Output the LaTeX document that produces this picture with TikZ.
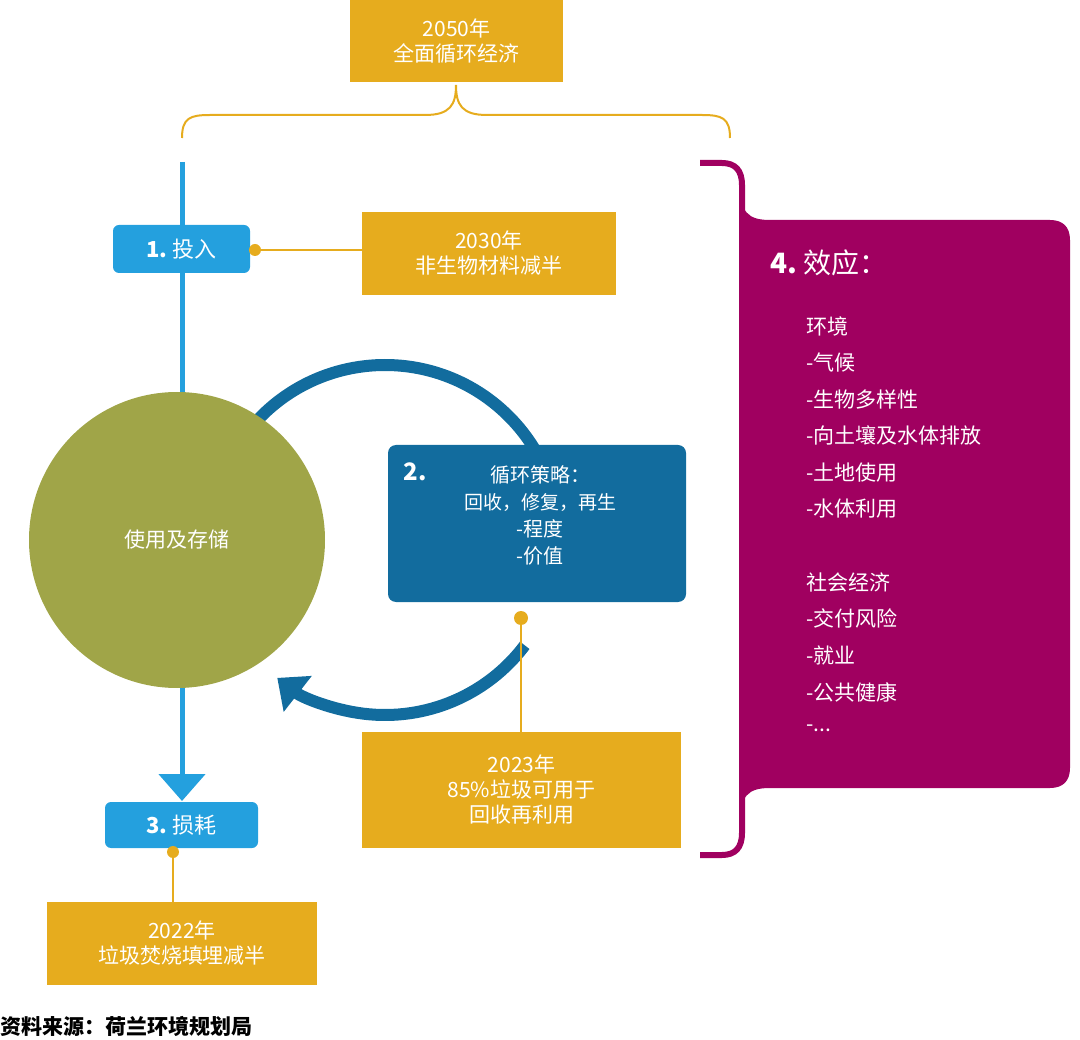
\documentclass[tikz,border=0pt]{standalone}
\usepackage{fontspec}
\setmainfont{Noto Sans CJK SC}
\usepackage{xcolor}
\usetikzlibrary{arrows.meta}
\definecolor{goldbox}{RGB}{230,172,30}
\definecolor{lightblue}{RGB}{36,160,222}
\definecolor{darkblue}{RGB}{18,108,158}
\definecolor{olive}{RGB}{160,165,72}
\definecolor{magenta}{RGB}{160,0,96}
\tikzset{
  goal/.style={fill=goldbox,text=white,align=center,inner sep=0pt,font=\fontsize{21}{25}\selectfont},
  stage/.style={fill=lightblue,text=white,rounded corners=6pt,inner sep=0pt,font=\fontsize{22}{26}\selectfont},
  effect/.style={text=white,anchor=west,inner sep=0pt,font=\fontsize{21}{25}\selectfont},
  pin/.style={goldbox,line width=2pt},
}
\begin{document}
\begin{tikzpicture}[x=1pt,y=1pt,yscale=-1,xscale=1]
    \useasboundingbox (0,0) rectangle (1080,1040);

    %Shape: Brace
    \draw [goldbox,line width=2pt] (182,138) .. controls (182,118) and (190,115) .. (210,115) -- (425,115) .. controls (450,115) and (456,105) .. (456,85) .. controls (456,105) and (462,115) .. (487,115) -- (702,115) .. controls (722,115) and (730,118) .. (730,138);
    \node [goal,minimum width=213,minimum height=82] (g50) at (456.5,41) {2050年\\全面循环经济};

    %Shape: Loop arc (bottom)
    \draw [darkblue,line width=12pt] (385,540) ++(-138:175) arc (-138:-20:175);
    %Shape: Loop arc (top) with arrow
    \draw [darkblue,line width=12pt,-{Triangle[length=26pt,width=44pt]}] (385,540) ++(37:175) arc (37:128:175);

    %Shape: Input line
    \draw [lightblue,line width=5pt,-{Triangle[length=27pt,width=46pt]}] (182,162) -- (182,435);
    %Shape: Circle
    \node [circle,fill=olive,minimum size=296,inner sep=0pt,text=white,font=\fontsize{21}{25}\selectfont] (use) at (177,540) {使用及存储};
    %Shape: Loss line
    \draw [lightblue,line width=5pt,-{Triangle[length=27pt,width=46pt]}] (182,688) -- (182,801);

    % Stage 1
    \node [stage,minimum width=137,minimum height=48] (s1) at (181.5,249) {\textbf{1.}\ 投入};
    \node [goal,minimum width=254,minimum height=83] (g30) at (489,253.5) {2030年\\非生物材料减半};
    \fill [goldbox] (255,250) coordinate (d1) circle (6pt);
    \draw [pin] (d1) -- (g30.west |- d1);

    % Stage 2
    \node [fill=darkblue,rounded corners=8pt,minimum width=298,minimum height=157,inner sep=0pt] (s2) at (537,523.5) {};
    \node [text=white,font=\bfseries\fontsize{24}{28}\selectfont] (s2n) at (415,472) {2.};
    \node [text=white,align=center,font=\fontsize{20}{27}\selectfont] (s2t) at (540,515) {循环策略：\\{\fontsize{19}{27}\selectfont 回收，修复，再生}\\-程度\\-价值};
    \node [goal,minimum width=319,minimum height=116] (g23) at (521.5,790) {2023年\\85\%垃圾可用于\\回收再利用};
    \fill [goldbox] (521,618) coordinate (d2) circle (7pt);
    \draw [pin] (d2) -- (g23.north -| d2);

    % Stage 3
    \node [stage,minimum width=153,minimum height=46] (s3) at (181.5,825) {\textbf{3.}\ 损耗};
    \node [goal,minimum width=270,minimum height=83] (g22) at (182,943.5) {2022年\\垃圾焚烧填埋减半};
    \fill [goldbox] (173,852) coordinate (d3) circle (6pt);
    \draw [pin] (d3) -- (g22.north -| d3);

    %Shape: Effects bracket and box
    \draw [magenta,line width=6pt] (700,163) -- (722,163) .. controls (735,163) and (742,170) .. (742,185) -- (742,833) .. controls (742,848) and (735,855) .. (722,855) -- (700,855);
    \fill [magenta] (740,185) .. controls (740,212) and (748,220) .. (770,220) -- (1050,220) .. controls (1063,220) and (1070,227) .. (1070,240) -- (1070,768) .. controls (1070,781) and (1063,788) .. (1050,788) -- (770,788) .. controls (748,788) and (740,796) .. (740,823) -- cycle;
    \node [effect,font=\fontsize{28}{32}\selectfont] (s4) at (770,263) {\textbf{4.}\ 效应：};
    \foreach \txt [count=\i from 0] in {环境,-气候,-生物多样性,-向土壤及水体排放,-土地使用,-水体利用,{},社会经济,-交付风险,-就业,-公共健康,{-{.}{.}{.}}}
      \node [effect] (e\i) at (806,326+36.6*\i) {\txt};

    % Source
    \node [anchor=west,inner sep=0pt,font=\bfseries\fontsize{21}{25}\selectfont] (src) at (0,1026) {资料来源：荷兰环境规划局};
\end{tikzpicture}
\end{document}
